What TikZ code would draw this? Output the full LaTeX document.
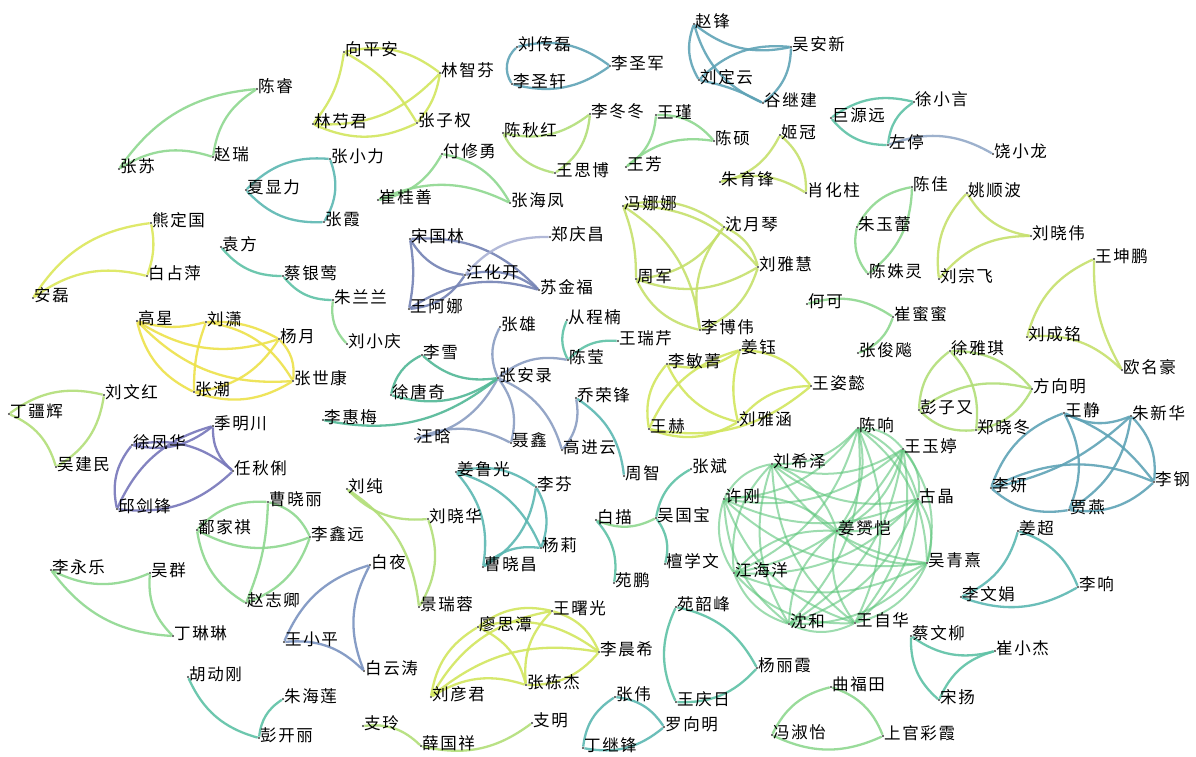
\documentclass[tikz,border=0pt]{standalone}
\usepackage{fontspec}
\newfontfamily\cjk[LetterSpace=10]{Noto Sans CJK SC}
\definecolor{grnA}{HTML}{8FD890}
\definecolor{ylgrn}{HTML}{D2E65E}
\definecolor{tealblue}{HTML}{5FA3B6}
\definecolor{limegrn}{HTML}{B2DE78}
\definecolor{mint}{HTML}{5EC2A6}
\definecolor{yellow}{HTML}{EDE24A}
\definecolor{lemon}{HTML}{DCE75A}
\definecolor{olive}{HTML}{C6E06C}
\definecolor{slate}{HTML}{7482B4}
\definecolor{slatelight}{HTML}{8A9DC2}
\definecolor{purple}{HTML}{7676BA}
\definecolor{steel}{HTML}{7A93C0}
\definecolor{jade}{HTML}{5CC67A}
\definecolor{aqua}{HTML}{5BB7B2}
\definecolor{lavender}{HTML}{AAB2D4}
\definecolor{greyblue}{HTML}{93A9C8}
\definecolor{seagreen}{HTML}{52B896}
\pgfdeclarelayer{edges}
\pgfsetlayers{edges,main}
\newcommand{\person}[3]{\node[vertex] (#1) at (#2) {}; \node[nametag] (#1-t) at (#1) {#3};}

\begin{document}
\begin{tikzpicture}[x=1pt, y=-1pt,
    vertex/.style={circle, fill=black!75, inner sep=0pt, minimum size=2.4pt},
    nametag/.style={anchor=base west, inner sep=0pt, xshift=1pt, yshift=-3pt,
      font=\cjk\fontsize{16.5}{16.5}\selectfont},
    sl/.style={bend left=#1}, sl/.default=25,
    sr/.style={bend right=#1}, sr/.default=25,
    tie/.style={line width=2.3pt, opacity=0.9}]
    \useasboundingbox (0,0) rectangle (1196,756);
    % people, placed at their dots
    \person{cr}{257,89}{陈睿} \person{zr}{213,157}{赵瑞} \person{zs}{119,169}{张苏}
    \person{xpa}{344,52}{向平安} \person{lzf}{440,73}{林智芬} \person{lsj}{313,124}{林芍君} \person{zzq}{417,123}{张子权}
    \person{lcl}{517,47}{刘传磊} \person{lsx}{512,84}{李圣轩} \person{lsjun}{610,66}{李圣军}
    \person{zf}{694,24}{赵锋} \person{wax}{791,47}{吴安新} \person{ldy}{699,80}{刘定云} \person{gjj}{763,103}{谷继建}
    \person{cqh}{503,133}{陈秋红} \person{ldd}{590,114}{李冬冬} \person{wsb}{555,173}{王思博}
    \person{wj}{656,115}{王瑾} \person{cs}{714,141}{陈硕} \person{wf}{626,167}{王芳}
    \person{jg}{780,135}{姬冠} \person{zyf}{720,182}{朱育锋} \person{xhz}{806,193}{肖化柱}
    \person{jyy}{831,118}{巨源远} \person{xxy}{914,102}{徐小言} \person{zt}{888,145}{左停} \person{rxl}{993,154}{饶小龙}
    \person{xxl}{246,190}{夏显力} \person{zxl}{330,159}{张小力} \person{zx}{324,222}{张霞}
    \person{fxy}{442,154}{付修勇} \person{cgs}{378,200}{崔桂善} \person{zhf}{510,203}{张海凤}
    \person{xdg}{151,223}{熊定国} \person{bzp}{147,276}{白占萍} \person{al}{33,298}{安磊}
    \person{yf}{221,247}{袁方} \person{cyy}{283,276}{蔡银莺} \person{zll}{333,300}{朱兰兰} \person{lxq}{347,344}{刘小庆}
    \person{sgl}{410,239}{宋国林} \person{jhk}{465,275}{江化开} \person{sjf}{539,290}{苏金福} \person{wan}{409,309}{王阿娜} \person{zqc}{550,237}{郑庆昌}
    \person{cj}{912,187}{陈佳} \person{zyl}{857,227}{朱玉蕾} \person{csl}{868,274}{陈姝灵}
    \person{ysb}{967,193}{姚顺波} \person{lxw}{1031,236}{刘晓伟} \person{lzf2}{939,279}{刘宗飞}
    \person{wkp}{1094,259}{王坤鹏} \person{lcm}{1027,337}{刘成铭} \person{omh}{1122,370}{欧名豪}
    \person{fnn}{623,206}{冯娜娜} \person{syq}{724,227}{沈月琴} \person{lyh}{758,267}{刘雅慧} \person{zj}{636,279}{周军} \person{lbw}{700,330}{李博伟}
    \person{hk}{807,304}{何可} \person{cmm}{893,317}{崔蜜蜜} \person{zjb}{858,353}{张俊飚}
    \person{gx}{137,321}{高星} \person{lx}{206,322}{刘潇} \person{yy}{279,339}{杨月} \person{zsk}{293,381}{张世康} \person{zc}{194,392}{张潮}
    \person{zal}{498,378}{张安录} \person{zx2}{500,327}{张雄} \person{lx2}{422,355}{李雪} \person{xtq}{391,395}{徐唐奇}
    \person{lhm}{323,420}{李惠梅} \person{wh}{415,439}{汪晗} \person{nx}{511,443}{聂鑫} \person{gjy}{562,450}{高进云}
    \person{qrf}{576,398}{乔荣锋} \person{cy}{568,360}{陈莹} \person{ccn}{567,320}{从程楠} \person{wrq}{618,341}{王瑞芹} \person{zz}{624,476}{周智}
    \person{lmj}{667,364}{李敏菁} \person{jy}{740,350}{姜钰} \person{wzy}{811,386}{王姿懿} \person{wh2}{649,429}{王赫} \person{lyh2}{738,422}{刘雅涵}
    \person{xyq}{950,351}{徐雅琪} \person{fxm}{1032,389}{方向明} \person{pzy}{919,410}{彭子又} \person{zxd}{976,430}{郑晓冬}
    \person{wj2}{1064,413}{王静} \person{zxh}{1131,416}{朱新华} \person{lg}{1154,482}{李钢} \person{ly}{991,488}{李妍} \person{jy2}{1069,510}{贾燕}
    \person{cx}{858,428}{陈响} \person{wyt}{903,449}{王玉婷} \person{gj}{918,499}{古晶} \person{wqx}{927,563}{吴青熹} \person{wzh}{855,623}{王自华}
    \person{sh}{789,624}{沈和} \person{jhy}{734,573}{江海洋} \person{xg}{724,499}{许刚} \person{lxz}{772,464}{刘希泽} \person{jyk}{837,531}{姜赟恺}
    \person{lwh}{104,395}{刘文红} \person{djh}{9,414}{丁疆辉} \person{wjm}{56,467}{吴建民}
    \person{jmc}{213,426}{季明川} \person{xfh}{132,445}{徐凤华} \person{rql}{233,471}{任秋俐} \person{qjf}{117,509}{邱剑锋}
    \person{cxl}{268,502}{曹晓丽} \person{pjq}{197,530}{鄱家祺} \person{lxy}{310,537}{李鑫远} \person{zzq2}{246,603}{赵志卿}
    \person{lc}{347,489}{刘纯} \person{lxh}{428,519}{刘晓华} \person{jrr}{419,607}{景瑞蓉}
    \person{jlg}{456,472}{姜鲁光} \person{lf}{536,487}{李芬} \person{cxc}{483,567}{曹晓昌} \person{yl}{541,548}{杨莉}
    \person{zb}{691,469}{张斌} \person{bm}{596,520}{白描} \person{wgb}{656,518}{吴国宝} \person{txw}{665,564}{檀学文} \person{yp}{614,583}{苑鹏}
    \person{lyl}{51,570}{李永乐} \person{wq}{150,573}{吴群} \person{dll}{173,636}{丁琳琳}
    \person{by}{370,565}{白夜} \person{wxp}{284,642}{王小平} \person{byt}{364,671}{白云涛}
    \person{lst}{478,627}{廖思潭} \person{wsg}{552,611}{王曙光} \person{lcx}{599,652}{李晨希} \person{zdj}{526,685}{张栋杰} \person{lyj}{431,697}{刘彦君}
    \person{hdg}{188,677}{胡动刚} \person{pkl}{259,738}{彭开丽} \person{zhl}{283,699}{朱海莲}
    \person{zl}{363,726}{支玲} \person{xgx}{421,746}{薛国祥} \person{zm}{532,723}{支明}
    \person{zw}{615,697}{张伟} \person{lxm}{664,727}{罗向明} \person{djf}{583,748}{丁继锋}
    \person{ysf}{676,607}{苑韶峰} \person{ylx}{757,668}{杨丽霞} \person{wqr}{676,702}{王庆日}
    \person{qft}{831,687}{曲福田} \person{fsy}{772,735}{冯淑怡} \person{sgcx}{883,736}{上官彩霞}
    \person{jc}{1018,531}{姜超} \person{lx3}{1078,587}{李响} \person{lwj}{961,597}{李文娟}
    \person{cwl}{911,636}{蔡文柳} \person{cxj}{995,651}{崔小杰} \person{sy}{939,700}{宋扬}
    % links between them, behind the names
    \begin{pgfonlayer}{edges}
    \fill[white] (0,0) rectangle (1196,756);
    \begin{scope}[tie, draw=grnA]
      \draw (zs) to[sl] (cr); \draw (cr) to[sr] (zr); \draw (zr) to[sr] (zs);
      \draw (cgs) to[sr] (fxy); \draw (fxy) to[sl] (zhf); \draw (cgs) to[sl] (zhf);
      \draw (cj) to[sr] (zyl); \draw (cj) to[sl] (csl); \draw (zyl) to[sr] (csl);
      \draw (wj) to[sl] (cs); \draw (wj) to[sl] (wf); \draw (wf) to[sl] (cs);
      \draw (lyl) to[sr] (wq); \draw (lyl) to[sr] (dll); \draw (wq) to[sr] (dll);
      \draw (hk) to[sl] (cmm); \draw (cmm) to[sl] (zjb);
      \draw (fsy) to[sl] (qft); \draw (qft) to[sl] (sgcx); \draw (fsy) to[sr] (sgcx);
      \draw (cxl) to[sr] (pjq); \draw (cxl) to[sl] (lxy); \draw (cxl) to[sl=10] (zzq2);
      \draw (pjq) to[sr] (lxy); \draw (pjq) to[sr] (zzq2); \draw (zzq2) to[sr] (lxy);
      \draw (bm) to[sr] (wgb); \draw (zll) to[sr] (lxq);
    \end{scope}
    \begin{scope}[tie, draw=ylgrn]
      \draw (xpa) to[sl] (lzf); \draw (xpa) to[sl=15] (lsj); \draw (xpa) to[sl=15] (zzq);
      \draw (lsj) to[sr] (lzf); \draw (lsj) to[sr] (zzq); \draw (lzf) to[sl=15] (zzq);
      \draw (lmj) to[sr] (jy); \draw (lmj) to[sr] (wh2); \draw (lmj) to[sr] (lyh2);
      \draw (jy) to[sl] (wzy); \draw (jy) to[sr] (wh2); \draw (jy) to[sr=15] (lyh2);
      \draw (wzy) to[sl] (wh2); \draw (wzy) to[sr] (lyh2); \draw (wh2) to[sr] (lyh2);
      \draw (lst) to[sl] (wsg); \draw (lst) to[sl] (lcx); \draw (lst) to[sl] (zdj);
      \draw (lyj) to[sl] (lst); \draw (wsg) to[sl] (lcx); \draw (wsg) to[sr] (zdj);
      \draw (lyj) to[sl] (wsg); \draw (zdj) to[sr] (lcx); \draw (lyj) to[sl] (zdj);
      \draw (lyj) to[sl] (lcx);
    \end{scope}
    \begin{scope}[tie, draw=tealblue]
      \draw (lcl) to[sr=40] (lsx); \draw (lcl) to[sl] (lsjun); \draw (lsx) to[sr] (lsjun);
      \draw (zf) to[sr] (wax); \draw (zf) to[sr] (ldy); \draw (zf) to[sr] (gjj);
      \draw (ldy) to[sl] (wax); \draw (wax) to[sl] (gjj); \draw (ldy) to[sl=8] (gjj);
      \draw (ly) to[sl] (wj2); \draw (wj2) to[sr] (zxh); \draw (wj2) to[sl=15] (lg);
      \draw (wj2) to[sl] (jy2); \draw (zxh) to[sl] (lg); \draw (zxh) to[sl=15] (ly);
      \draw (zxh) to[sl] (jy2); \draw (ly) to[sl] (lg); \draw (ly) to[sr] (jy2);
      \draw (jy2) to[sr] (lg);
    \end{scope}
    \begin{scope}[tie, draw=limegrn]
      \draw (cqh) to[sr] (ldd); \draw (cqh) to[sr] (wsb); \draw (wsb) to[sr] (ldd);
      \draw (djh) to[sl] (lwh); \draw (djh) to[sl] (wjm); \draw (wjm) to[sr] (lwh);
      \draw (xyq) to[sl] (fxm); \draw (xyq) to[sr] (pzy); \draw (xyq) to[sl] (zxd);
      \draw (pzy) to[sl] (fxm); \draw (pzy) to[sr] (zxd); \draw (zxd) to[sr] (fxm);
      \draw (lc) to[sr] (lxh); \draw (lc) to[sl] (jrr); \draw (lxh) to[sl] (jrr);
      \draw (zl) to[sl] (xgx); \draw (xgx) to[sr] (zm);
    \end{scope}
    \begin{scope}[tie, draw=olive]
      \draw (jg) to[sl] (zyf); \draw (jg) to[sl] (xhz); \draw (zyf) to[sl] (xhz);
      \draw (ysb) to[sr] (lxw); \draw (ysb) to[sr] (lzf2); \draw (lzf2) to[sl] (lxw);
      \draw (wkp) to[sr] (lcm); \draw (wkp) to[sr=15] (omh); \draw (lcm) to[sl] (omh);
      \draw (fnn) to[sl] (syq); \draw (fnn) to[sl] (lyh); \draw (fnn) to[sl=10] (zj);
      \draw (fnn) to[sl] (lbw); \draw (syq) to[sl] (lyh); \draw (syq) to[sl] (zj);
      \draw (syq) to[sr] (lbw); \draw (lyh) to[sl] (zj); \draw (lyh) to[sl] (lbw);
      \draw (zj) to[sr] (lbw);
    \end{scope}
    \begin{scope}[tie, draw=mint]
      \draw (jyy) to[sl] (xxy); \draw (jyy) to[sr] (zt); \draw (xxy) to[sr] (zt);
      \draw (yf) to[sr] (cyy); \draw (cyy) to[sr] (zll);
      \draw (wgb) to[sl] (txw); \draw (bm) to[sl] (yp); \draw (zb) to[sr] (wgb);
      \draw (hdg) to[sr] (pkl); \draw (pkl) to[sl] (zhl);
      \draw (ysf) to[sl] (ylx); \draw (ysf) to[sr] (wqr); \draw (wqr) to[sr] (ylx);
      \draw (cwl) to[sr] (cxj); \draw (cwl) to[sr] (sy); \draw (sy) to[sl] (cxj);
      \draw (ccn) to[sr] (cy); \draw (cy) to[sl] (wrq);
    \end{scope}
    \begin{scope}[tie, draw=aqua]
      \draw (xxl) to[sl] (zxl); \draw (zxl) to[sl] (zx); \draw (xxl) to[sr] (zx);
      \draw (jlg) to[sl] (lf); \draw (jlg) to[sl] (cxc); \draw (jlg) to[sl] (yl);
      \draw (lf) to[sl] (cxc); \draw (lf) to[sl] (yl); \draw (cxc) to[sl] (yl);
      \draw (zw) to[sl] (lxm); \draw (djf) to[sl] (zw); \draw (djf) to[sr] (lxm);
      \draw (jc) to[sl] (lx3); \draw (jc) to[sl] (lwj); \draw (lwj) to[sr] (lx3);
      \draw (qrf) to[sl] (zz);
    \end{scope}
    \begin{scope}[tie, draw=lemon]
      \draw (al) to[sl] (xdg); \draw (xdg) to[sl=15] (bzp); \draw (al) to[sl] (bzp);
    \end{scope}
    \begin{scope}[tie, draw=yellow]
      \draw (gx) to[sr=15] (lx); \draw (gx) to[sr] (yy); \draw (gx) to[sr] (zsk);
      \draw (gx) to[sr] (zc); \draw (lx) to[sl=15] (yy); \draw (lx) to[sl] (zsk);
      \draw (lx) to[sr=10] (zc); \draw (yy) to[sl] (zsk); \draw (zc) to[sr] (yy);
      \draw (zc) to[sr] (zsk);
    \end{scope}
    \begin{scope}[tie, draw=slate]
      \draw (sgl) to[sl=10] (wan); \draw (sgl) to[sr] (jhk); \draw (sgl) to[sl] (sjf);
      \draw (jhk) to[sl] (sjf); \draw (wan) to[sr] (jhk); \draw (wan) to[sl] (sjf);
    \end{scope}
    \begin{scope}[tie, draw=slatelight]
      \draw (zal) to[sl] (zx2); \draw (zal) to[sl] (wh); \draw (wh) to[sl] (nx);
      \draw (zal) to[sl] (nx); \draw (zal) to[sl] (gjy); \draw (zal) to[sl] (cy);
      \draw (qrf) to[sl] (gjy);
    \end{scope}
    \begin{scope}[tie, draw=seagreen]
      \draw (lx2) to[sr] (zal); \draw (lx2) to[sr] (xtq); \draw (xtq) to[sr] (zal);
      \draw (lhm) to[sr] (zal);
    \end{scope}
    \begin{scope}[tie, draw=purple]
      \draw (xfh) to[sr] (jmc); \draw (xfh) to[sl] (rql); \draw (xfh) to[sr] (qjf);
      \draw (jmc) to[sr] (rql); \draw (jmc) to[sr] (qjf); \draw (qjf) to[sr] (rql);
    \end{scope}
    \begin{scope}[tie, draw=steel]
      \draw (by) to[sr] (wxp); \draw (by) to[sr] (byt); \draw (wxp) to[sl] (byt);
    \end{scope}
    \begin{scope}[tie, draw=greyblue]
      \draw (zt) to[sl] (rxl);
    \end{scope}
    \begin{scope}[tie, draw=lavender]
      \draw (zqc) to[sr] (jhk);
    \end{scope}
    % the big ring of ten
    \begin{scope}[line width=2pt, draw=jade, opacity=0.6]
      \draw (cx) to[sl] (wyt); \draw (cx) to[sl] (gj); \draw (cx) to[sl] (wqx); \draw (cx) to[sl] (wzh); \draw (cx) to[sl] (sh);
      \draw (cx) to[sl] (jhy); \draw (cx) to[sl] (xg); \draw (cx) to[sl] (lxz); \draw (cx) to[sl] (jyk);
      \draw (wyt) to[sl] (gj); \draw (wyt) to[sl] (wqx); \draw (wyt) to[sl] (wzh); \draw (wyt) to[sl] (sh);
      \draw (wyt) to[sl] (jhy); \draw (wyt) to[sl] (xg); \draw (wyt) to[sl] (lxz); \draw (wyt) to[sl] (jyk);
      \draw (gj) to[sl] (wqx); \draw (gj) to[sl] (wzh); \draw (gj) to[sl] (sh); \draw (gj) to[sl] (jhy);
      \draw (gj) to[sl] (xg); \draw (gj) to[sl] (lxz); \draw (gj) to[sl] (jyk);
      \draw (wqx) to[sl] (wzh); \draw (wqx) to[sl] (sh); \draw (wqx) to[sl] (jhy); \draw (wqx) to[sl] (xg);
      \draw (wqx) to[sl] (lxz); \draw (wqx) to[sl] (jyk);
      \draw (wzh) to[sl] (sh); \draw (wzh) to[sl] (jhy); \draw (wzh) to[sl] (xg); \draw (wzh) to[sl] (lxz);
      \draw (wzh) to[sl] (jyk);
      \draw (sh) to[sl] (jhy); \draw (sh) to[sl] (xg); \draw (sh) to[sl] (lxz); \draw (sh) to[sl] (jyk);
      \draw (jhy) to[sl] (xg); \draw (jhy) to[sl] (lxz); \draw (jhy) to[sl] (jyk);
      \draw (xg) to[sl] (lxz); \draw (xg) to[sl] (jyk);
      \draw (lxz) to[sl] (jyk);
    \end{scope}
    \end{pgfonlayer}
  \end{tikzpicture}
\end{document}
